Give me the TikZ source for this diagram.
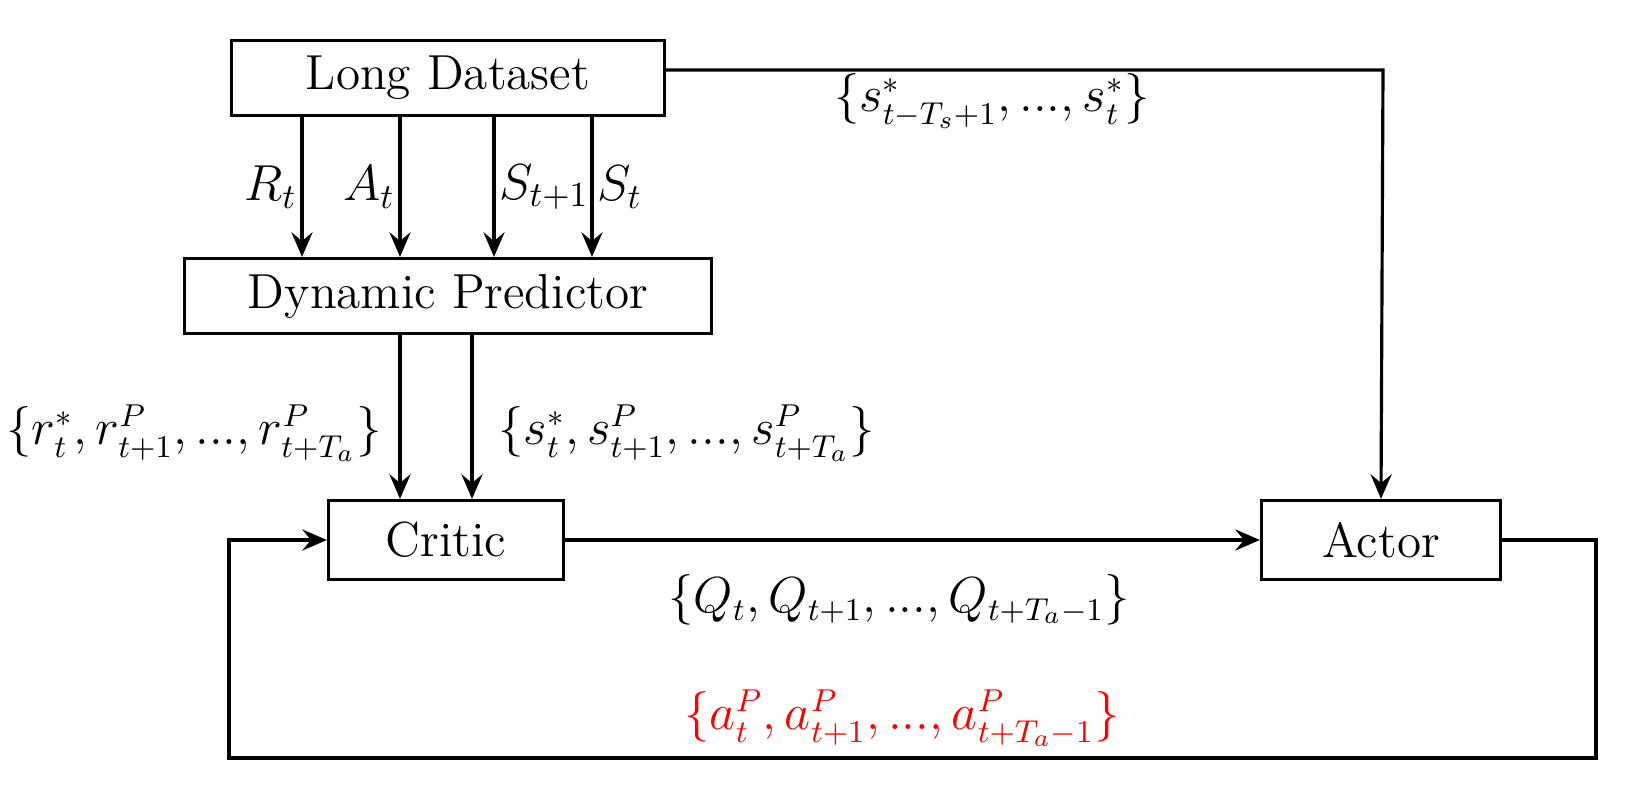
\documentclass[tikz,border=0pt]{standalone}
\usetikzlibrary{arrows.meta}

\begin{document}
\begin{tikzpicture}[x=0.01cm, y=-0.01cm, every node/.style={font=\fontsize{14}{16}\selectfont}, >={Stealth[length=7pt,width=6pt,inset=2.5pt]}]
	\tikzset{block/.style={draw, line width=0.9pt, inner sep=0pt, minimum height=0.75cm}}
	\tikzset{conn/.style={->, line width=0.9pt}}
	\tikzset{lbl/.style={inner sep=1pt}}
	\tikzset{set/.style={font=\fontsize{13.5}{16}\selectfont}}
	\useasboundingbox (0,0) rectangle (1636,788);
	\node[block, minimum width=4.33cm] (ld) at (448,78) {Long Dataset};
	\node[block, minimum width=5.27cm] (dp) at (448,296) {Dynamic Predictor};
	\node[block, minimum width=2.35cm, minimum height=0.79cm] (critic) at (446,540) {Critic};
	\node[block, minimum width=2.39cm, minimum height=0.79cm] (actor) at (1381,540) {Actor};
	\coordinate (xr) at (302,0);
	\coordinate (xa) at (400,0);
	\coordinate (xs1) at (494,0);
	\coordinate (xs) at (592,0);
	\coordinate (xp1) at (400,0);
	\coordinate (xp2) at (472,0);
	\coordinate (c1) at (1383,70);
	\coordinate (fr) at (1596,758);
	\coordinate (fl) at (229,758);
	% dataset to predictor
	\draw[conn] (ld.south -| xr) -- (dp.north -| xr) node[lbl,midway,left] {$R_t$};
	\draw[conn] (ld.south -| xa) -- (dp.north -| xa) node[lbl,midway,left] {$A_t$};
	\draw[conn] (ld.south -| xs1) -- (dp.north -| xs1) node[lbl,midway,right] {$S_{t+1}$};
	\draw[conn] (ld.south -| xs) -- (dp.north -| xs) node[lbl,midway,right] {$S_t$};
	% dataset to actor
	\draw[conn] (ld.east |- c1) -- (c1) -- (actor.north);
	\node[set] (ls) at (992,101) {$\{s^*_{t-T_s+1},...,s^*_t\}$};
	% predictor to critic
	\draw[conn] (dp.south -| xp1) -- (critic.north -| xp1);
	\draw[conn] (dp.south -| xp2) -- (critic.north -| xp2);
	\node[set,anchor=east] (lr) at (394,433) {$\{r^*_t,r^P_{t+1},...,r^P_{t+T_a}\}$};
	\node[set,anchor=west] (lsp) at (486,433) {$\{s^*_t,s^P_{t+1},...,s^P_{t+T_a}\}$};
	% critic and actor
	\draw[conn] (critic) -- (actor);
	\node[set] (lq) at (899,600) {$\{Q_t,Q_{t+1},...,Q_{t+T_a-1}\}$};
	\draw[conn] (actor.east) -| (fr) -- (fl) |- (critic.west);
	\node[set,text=red] (la) at (902,718) {$\{a^P_t,a^P_{t+1},...,a^P_{t+T_a-1}\}$};
\end{tikzpicture}
\end{document}
